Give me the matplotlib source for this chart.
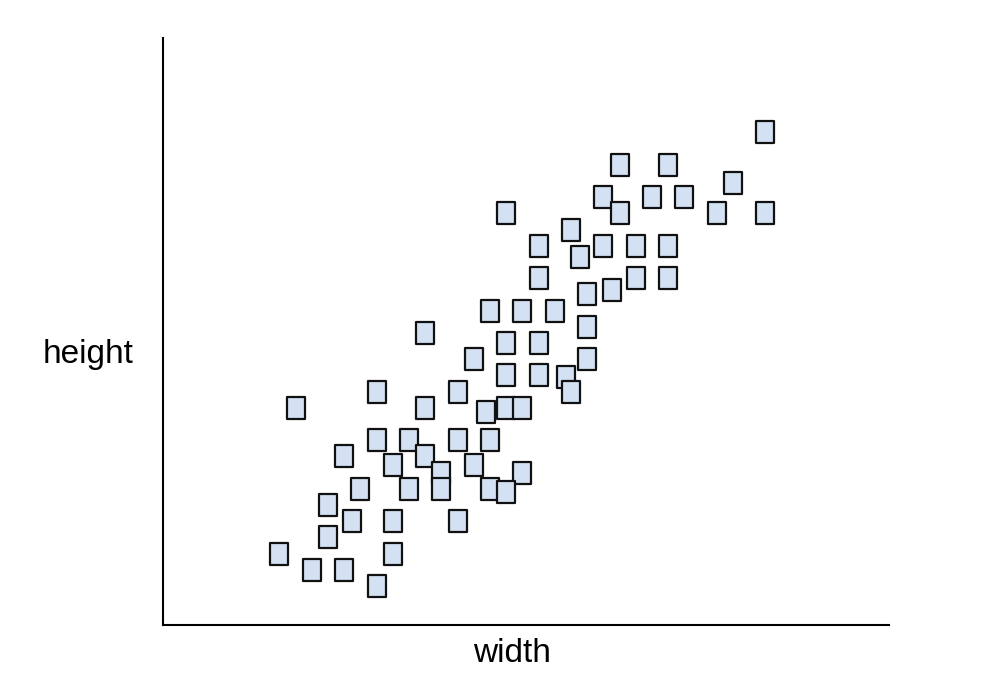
import matplotlib.pyplot as plt
import numpy as np
from matplotlib.path import Path

# width / height values
width = [37, 28, 31, 35, 27, 30, 32, 21, 28, 34, 37, 25, 23, 27, 29, 31, 25.55,
         23, 29, 31, 27.5, 26, 20, 22, 24, 26, 16, 21, 23, 19, 26, 21, 23, 24.7,
         13, 18, 25, 8, 16, 19.75, 21, 22, 13, 15, 18, 20, 11, 16, 14, 19, 17,
         22, 12, 15, 17, 20, 21, 10, 11.5, 14, 18, 10, 7, 14, 9, 11, 13]
height = [28, 26, 26, 24.9, 24, 24, 24, 23, 23, 23, 23, 22, 21, 21, 21, 21, 20.3,
          19, 19, 19, 18.3, 18, 17, 17, 17, 16, 15.6, 15, 15, 14, 14, 13, 13, 12.9,
          12, 12, 12, 11, 11, 10.75, 11, 11, 9, 9, 9, 9, 8, 8, 7.5, 7.5, 7,
          7, 6, 6, 6, 6, 5.8, 5, 4, 4, 4, 3, 2, 2, 1, 1, 0]

# rechteckiger marker, etwas hoeher als breit
rect = Path([(-9, -11), (9, -11), (9, 11), (-9, 11), (-9, -11)],
            [Path.MOVETO, Path.LINETO, Path.LINETO, Path.LINETO, Path.CLOSEPOLY])

fig = plt.figure(figsize=(10.08, 6.86), dpi=100)
ax = fig.add_axes([163/1008, 61/686, 726/1008, 587/686])

ax.scatter(width, height, marker=rect, s=15.8**2, c='#d3e1f2',
           edgecolors='#111111', linewidths=1.6, zorder=3)

ax.set_xlim(-3/16.2, 723/16.2)
ax.set_ylim(-39/16.2, 548/16.2)
ax.set_xticks([])
ax.set_yticks([])
for s in ['top', 'right']:
    ax.spines[s].set_visible(False)
for s in ['left', 'bottom']:
    ax.spines[s].set_linewidth(1.5)
    ax.spines[s].set_color('black')

fig.text(43/1008, (686-363)/686, 'height', fontsize=24, family='Liberation Sans',
         ha='left', va='baseline')
fig.text(473/1008, (686-662)/686, 'width', fontsize=24, family='Liberation Sans',
         ha='left', va='baseline')

plt.savefig('out.png', dpi=100)
